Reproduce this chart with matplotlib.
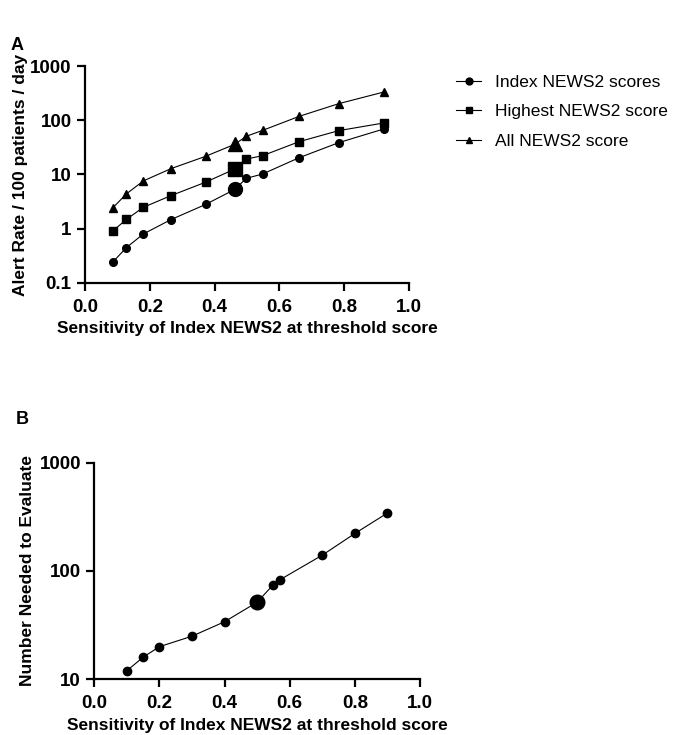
import matplotlib
matplotlib.use("Agg")
from matplotlib import pyplot as plt
from matplotlib.ticker import FixedLocator, FixedFormatter, NullLocator

plt.rcParams['font.family'] = ['Liberation Sans', 'DejaVu Sans']

# Panel A data
sens_a = [0.085, 0.128, 0.18, 0.265, 0.372, 0.462, 0.498, 0.548, 0.661, 0.783, 0.922]
index_scores = [0.24, 0.45, 0.80, 1.47, 2.8, 5.3, 8.5, 10.2, 20.4, 38.6, 69]
highest_score = [0.90, 1.49, 2.48, 4.07, 7.2, 12.6, 19.3, 22.2, 40.3, 64.3, 89]
all_scores = [2.4, 4.4, 7.6, 12.8, 21.6, 36, 50.6, 65, 118, 202, 331]
hilite_a = 5

# Panel B data
sens_b = [0.1, 0.15, 0.2, 0.3, 0.4, 0.5, 0.55, 0.57, 0.7, 0.8, 0.9]
nne = [12, 16, 20, 25, 34, 51.5, 75, 83, 140, 222, 343]
hilite_b = 5

xticks = [0.0, 0.2, 0.4, 0.6, 0.8, 1.0]
xlabels = ['0.0', '0.2', '0.4', '0.6', '0.8', '1.0']
yticks_a = [0.1, 1, 10, 100, 1000]
ylabels_a = ['0.1', '1', '10', '100', '1000']
yticks_b = [10, 100, 1000]
ylabels_b = ['10', '100', '1000']

fig = plt.figure(figsize=(6.73, 7.35), dpi=100)
axA = fig.add_axes([0.1263, 0.615, 0.4814, 0.2952])
axB = fig.add_axes([0.1401, 0.0758, 0.484, 0.2947])


def style(ax, yt, yl):
  ax.set_yscale('log')
  ax.set_xlim(0, 1)
  ax.set_ylim(yt[0], yt[-1])
  ax.xaxis.set_major_locator(FixedLocator(xticks))
  ax.xaxis.set_major_formatter(FixedFormatter(xlabels))
  ax.yaxis.set_major_locator(FixedLocator(yt))
  ax.yaxis.set_major_formatter(FixedFormatter(yl))
  ax.yaxis.set_minor_locator(NullLocator())
  for s in ['top', 'right']:
    ax.spines[s].set_visible(False)
  for s in ['left', 'bottom']:
    ax.spines[s].set_linewidth(1.6)
  ax.tick_params(width=1.6, length=6, labelsize=13.5)
  ax.tick_params(axis='x', pad=5.5)
  ax.tick_params(axis='y', pad=3.6)
  for t in ax.get_xticklabels() + ax.get_yticklabels():
    t.set_fontweight('bold')


style(axA, yticks_a, ylabels_a)
style(axB, yticks_b, ylabels_b)

# Panel A lines
series = [(index_scores, 'o', 'Index NEWS2 scores'),
          (highest_score, 's', 'Highest NEWS2 score'),
          (all_scores, '^', 'All NEWS2 score')]
handles = []
for vals, m, lab in series:
  h, = axA.plot(sens_a, vals, color='black', lw=0.8, marker=m, ms=5.5, label=lab, clip_on=False)
  axA.plot(sens_a[hilite_a], vals[hilite_a], color='black', marker=m, ms=10, ls='none', clip_on=False)
  handles.append(h)

axA.set_ylabel('Alert Rate / 100 patients / day', fontsize=12.5, fontweight='bold')
axA.yaxis.set_label_coords(-0.176, 0.5)
axA.set_xlabel('Sensitivity of Index NEWS2 at threshold score', fontsize=12.5, fontweight='bold')
axA.xaxis.set_label_coords(0.5, -0.177)

fig.legend(handles=handles, loc='upper left', bbox_to_anchor=(0.655, 0.92), frameon=False,
           fontsize=12.5, handlelength=1.4, handletextpad=0.8, labelspacing=0.85, markerscale=0.9)

# Panel B line
axB.plot(sens_b, nne, color='black', lw=0.8, marker='o', ms=6, clip_on=False)
axB.plot(sens_b[hilite_b], nne[hilite_b], color='black', marker='o', ms=10.5, ls='none', clip_on=False)
axB.set_ylabel('Number Needed to Evaluate', fontsize=12.5, fontweight='bold')
axB.yaxis.set_label_coords(-0.182, 0.5)
axB.set_xlabel('Sensitivity of Index NEWS2 at threshold score', fontsize=12.5, fontweight='bold')
axB.xaxis.set_label_coords(0.5, -0.177)

fig.text(17 / 673, 1 - 45 / 735, 'A', fontsize=13, fontweight='bold', va='center', ha='center')
fig.text(22 / 673, 1 - 420 / 735, 'B', fontsize=13, fontweight='bold', va='center', ha='center')

fig.savefig('out.png', dpi=100)
